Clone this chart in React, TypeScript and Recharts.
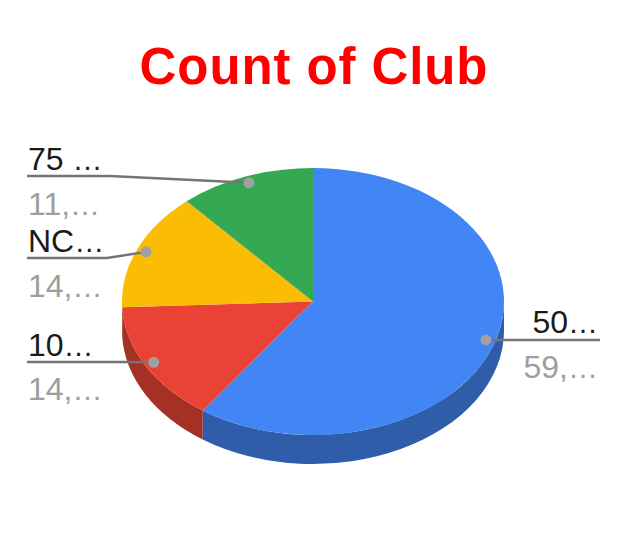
import { Pie, PieChart } from "recharts"

const categories = ["50…", "10…", "NC…", "75 …"]
const values = [59800, 14500, 14200, 11500]
const valueLabels = ["59,…", "14,…", "14,…", "11,…"]
const topColors = ["#4285f4", "#ea4335", "#fbbc04", "#34a853"]
const sideColors = ["#2f5da9", "#a53025", "#b18503", "#25773b"]

const data = categories.map((name, i) => ({ name, value: values[i], label: valueLabels[i] }))

const SQUASH = 133.5 / 191
const DEPTH = 29
const RAD = Math.PI / 180

// where each label sits
const labelSpots = [
  { lineX: 600, lineY: 340, elbowX: 600, nameY: 333, valueY: 378, right: true },
  { lineX: 27, lineY: 362, elbowX: 130, nameY: 356, valueY: 400, right: false },
  { lineX: 27, lineY: 258, elbowX: 107, nameY: 252, valueY: 297, right: false },
  { lineX: 27, lineY: 176, elbowX: 110, nameY: 170, valueY: 215, right: false },
]

const point = (cx: number, cy: number, r: number, deg: number) => [
  cx + r * Math.cos(deg * RAD),
  cy - r * SQUASH * Math.sin(deg * RAD),
]

function TopSlice(props: any) {
  const { cx, cy, outerRadius: r, startAngle, endAngle, index } = props
  const [x0, y0] = point(cx, cy, r, startAngle)
  const [x1, y1] = point(cx, cy, r, endAngle)
  const large = Math.abs(startAngle - endAngle) > 180 ? 1 : 0
  return (
    <path
      d={`M${cx},${cy} L${x0},${y0} A${r},${r * SQUASH} 0 ${large} 1 ${x1},${y1} Z`}
      fill={topColors[index]}
    />
  )
}

function SideSlice(props: any) {
  const { cx, cy, outerRadius: r, startAngle, endAngle, index } = props
  // only the part on the front of the disc is visible
  const from = Math.min(startAngle, 0)
  const to = Math.max(endAngle, -180)
  if (from <= to) return <g />
  const [x0, y0] = point(cx, cy, r, from)
  const [x1, y1] = point(cx, cy, r, to)
  const ry = r * SQUASH
  return (
    <path
      d={`M${x0},${y0} A${r},${ry} 0 0 1 ${x1},${y1} L${x1},${y1 + DEPTH} A${r},${ry} 0 0 0 ${x0},${y0 + DEPTH} Z`}
      fill={sideColors[index]}
    />
  )
}

function SliceLabel(props: any) {
  const { cx, cy, outerRadius, midAngle, index, name, label } = props
  const spot = labelSpots[index]
  const [dotX, dotY] = point(cx, cy, outerRadius * 0.95, midAngle)
  const anchor = spot.right ? "end" : "start"
  const textX = spot.right ? 598 : 28
  return (
    <g fontFamily="'Liberation Sans', Arial, sans-serif" fontSize={32}>
      <polyline
        points={`${spot.lineX},${spot.lineY} ${spot.elbowX},${spot.lineY} ${dotX},${dotY}`}
        fill="none"
        stroke="#757575"
        strokeWidth={2.5}
      />
      <circle cx={dotX} cy={dotY} r={5.5} fill="#a0a0a0" />
      <text x={textX} y={spot.nameY} textAnchor={anchor} fill="#1a1a1a">
        {name.slice(0, -1)}
        <tspan fontSize={30}>…</tspan>
      </text>
      <text x={textX} y={spot.valueY} textAnchor={anchor} fill="#9e9e9e">
        {label.slice(0, -1)}
        <tspan fontSize={30}>…</tspan>
      </text>
    </g>
  )
}

export default function App() {
  return (
    <div style={{ margin: -8, width: 628, height: 534, background: "#fff", overflow: "hidden" }}>
      <PieChart width={628} height={534} margin={{ top: 0, right: 0, bottom: 0, left: 0 }}>
        <text
          x={314}
          y={84}
          textAnchor="middle"
          fill="#ff0000"
          fontFamily="'Liberation Sans', Arial, sans-serif"
          fontWeight="bold"
          fontSize={51}
          letterSpacing={0.9}
        >
          Count of Club
        </text>
        <Pie
          data={data}
          dataKey="value"
          nameKey="name"
          cx={313}
          cy={301.5}
          outerRadius={191}
          startAngle={90}
          endAngle={-270}
          stroke="none"
          shape={SideSlice}
          isAnimationActive={false}
        />
        <Pie
          data={data}
          dataKey="value"
          nameKey="name"
          cx={313}
          cy={301.5}
          outerRadius={191}
          startAngle={90}
          endAngle={-270}
          stroke="none"
          shape={TopSlice}
          label={SliceLabel}
          labelLine={false}
          isAnimationActive={false}
        />
        <line x1={626.5} y1={0} x2={626.5} y2={534} stroke="#8a8a8a" strokeWidth={2} />
      </PieChart>
    </div>
  )
}
